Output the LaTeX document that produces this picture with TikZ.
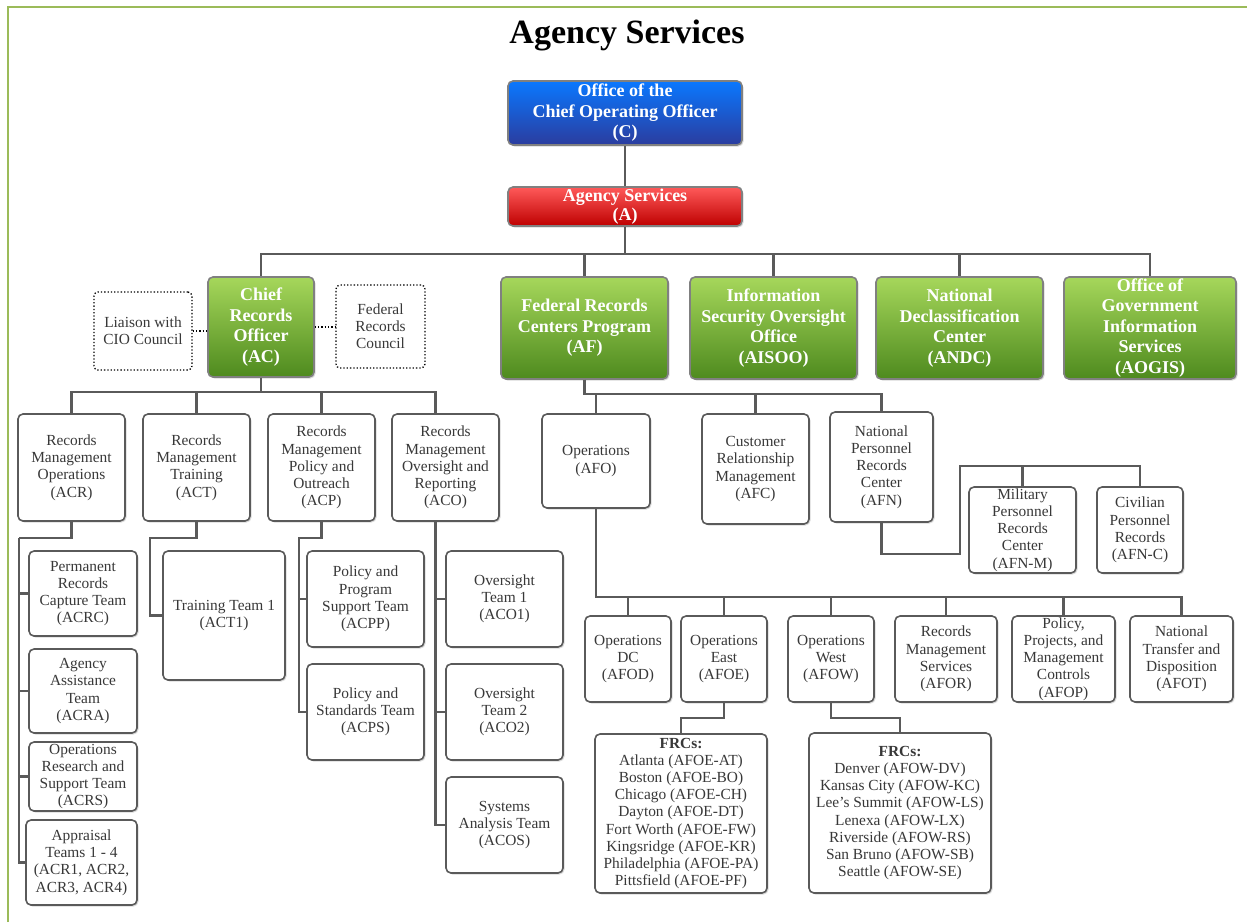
\documentclass[tikz,border=0pt]{standalone}
\usepackage{fontspec}
\setmainfont{Liberation Serif}
\usetikzlibrary{shadows}

\definecolor{linegray}{HTML}{5A5A5A}
\definecolor{textgray}{HTML}{383838}
\definecolor{framegreen}{HTML}{9BBB59}
\definecolor{greentop}{HTML}{A6D75B}
\definecolor{greenbot}{HTML}{4E8A1E}
\definecolor{bluetop}{HTML}{0A78FF}
\definecolor{bluebot}{HTML}{2B3C9E}
\definecolor{redtop}{HTML}{FF5A5A}
\definecolor{redbot}{HTML}{BE0000}

\tikzset{
    unit/.style={draw=linegray, line width=1.6pt, rounded corners=5pt, fill=white,
        text=textgray, align=center, inner sep=0pt,
        font=\fontsize{15.4}{17.2}\selectfont,
        drop shadow={shadow xshift=1.5pt, shadow yshift=-1.5pt, opacity=0.3}},
    headunit/.style={unit, draw=gray, text=white,
        font=\bfseries\fontsize{18}{20.5}\selectfont},
    greenunit/.style={headunit, top color=greentop, bottom color=greenbot},
    liaison/.style={draw=black, dotted, line width=1.3pt, rounded corners=4pt,
        text=textgray, align=center, font=\fontsize{15.4}{17}\selectfont},
    link/.style={draw=linegray, line width=2.4pt},
    sz/.style 2 args={minimum width=#1pt, minimum height=#2pt}
}

\begin{document}
\begin{tikzpicture}[x=1pt, y=-1pt]
    \useasboundingbox (0,0) rectangle (1247,922);
    \draw[framegreen, line width=2pt] (8,922) -- (8,7) -- (1247,7);

    \node[font=\bfseries\fontsize{34}{40}\selectfont] (title) at (627,35) {Agency Services};

    % top of the chart
    \node[headunit, sz={234}{64}, top color=bluetop, bottom color=bluebot] (coo) at (625,113)
        {Office of the\\Chief Operating Officer\\(C)};
    \node[headunit, sz={234}{39}, top color=redtop, bottom color=redbot,
        font=\bfseries\fontsize{18}{19}\selectfont] (as) at (625,206.5) {Agency Services\\(A)};
    \draw[link] (coo) -- (as);

    % offices under Agency Services
    \node[greenunit, sz={106}{100}] (ac) at (261,327) {Chief\\Records\\Officer\\(AC)};
    \node[greenunit, sz={167}{102}] (af) at (584.5,328) {Federal Records\\Centers Program\\(AF)};
    \node[greenunit, sz={167}{102}] (aisoo) at (773.5,328) {Information\\Security Oversight\\Office\\(AISOO)};
    \node[greenunit, sz={167}{102}] (andc) at (959.5,328) {National\\Declassification\\Center\\(ANDC)};
    \node[greenunit, sz={172}{102}] (aogis) at (1150,328) {Office of\\Government\\Information\\Services\\(AOGIS)};
    \foreach \name in {ac, af, aisoo, andc, aogis}
        \draw[link] (as.south) -- ++(0,27) -| (\name.north);

    % councils beside the Chief Records Officer
    \node[liaison, sz={98}{78}] (cio) at (143,331) {Liaison with\\CIO Council};
    \node[liaison, sz={89}{83}] (frcouncil) at (380.5,326.5) {Federal\\Records\\Council};
    \draw[dotted, line width=1.3pt] (cio.east) -- (cio.east -| ac.west);
    \draw[dotted, line width=1.3pt] (ac.east) -- (ac.east -| frcouncil.west);

    % Chief Records Officer
    \node[unit, sz={107}{107}] (acr) at (71.5,467.5) {Records\\Management\\Operations\\(ACR)};
    \node[unit, sz={107}{107}] (act) at (196.5,467.5) {Records\\Management\\Training\\(ACT)};
    \node[unit, sz={107}{107}] (acp) at (321.5,467.5) {Records\\Management\\Policy and\\Outreach\\(ACP)};
    \node[unit, sz={107}{107}] (aco) at (445.5,467.5) {Records\\Management\\Oversight and\\Reporting\\(ACO)};
    \foreach \name in {acr, act, acp}
        \draw[link] (ac.south) -- ++(0,14) -| (\name.north);
    \draw[link] (ac.south) -- ++(0,14) -| ([xshift=-10pt]aco.north);

    % ACR teams
    \node[unit, sz={108}{85}] (acrc) at (83,593.5) {Permanent\\Records\\Capture Team\\(ACRC)};
    \node[unit, sz={108}{84}] (acra) at (83,691) {Agency\\Assistance\\Team\\(ACRA)};
    \node[unit, sz={108}{69}] (acrs) at (83,776.5) {Operations\\Research and\\Support Team\\(ACRS)};
    \node[unit, sz={111}{85}] (acrn) at (81.5,862.5) {Appraisal\\Teams 1 - 4\\(ACR1, ACR2,\\ACR3, ACR4)};
    \coordinate (acrbus) at (19,538);
    \draw[link] (acr.south) |- (acrbus);
    \foreach \name in {acrc, acra, acrs, acrn}
        \draw[link] (acrbus) |- (\name.west);

    % ACT team
    \node[unit, sz={122}{129}] (act1) at (224,615.5) {Training Team 1\\(ACT1)};
    \coordinate (actbus) at (150,538);
    \draw[link] (act.south) |- (actbus) |- (act1.west);

    % ACP teams
    \node[unit, sz={117}{96}] (acpp) at (365.5,599) {Policy and\\Program\\Support Team\\(ACPP)};
    \node[unit, sz={117}{96}] (acps) at (365.5,712) {Policy and\\Standards Team\\(ACPS)};
    \coordinate (acpbus) at (299,538);
    \draw[link] (acp.south) |- (acpbus) |- (acpp.west);
    \draw[link] (acpbus) |- (acps.west);

    % ACO teams
    \node[unit, sz={117}{96}] (aco1) at (504.5,599) {Oversight\\Team 1\\(ACO1)};
    \node[unit, sz={117}{96}] (aco2) at (504.5,712) {Oversight\\Team 2\\(ACO2)};
    \node[unit, sz={117}{96}] (acos) at (504.5,825) {Systems\\Analysis Team\\(ACOS)};
    \foreach \name in {aco1, aco2, acos}
        \draw[link] ([xshift=-10pt]aco.south) |- (\name.west);

    % Federal Records Centers Program
    \node[unit, sz={108}{94}] (afo) at (596,461) {Operations\\(AFO)};
    \node[unit, sz={107}{110}] (afc) at (755.5,469) {Customer\\Relationship\\Management\\(AFC)};
    \node[unit, sz={103}{110}] (afn) at (881.5,467) {National\\Personnel\\Records\\Center\\(AFN)};
    \foreach \name in {afo, afc, afn}
        \draw[link] (af.south) -- ++(0,14) -| (\name.north);

    % personnel records centers
    \node[unit, sz={107}{86}] (afnm) at (1022.5,530) {Military\\Personnel\\Records\\Center\\(AFN-M)};
    \node[unit, sz={86}{86}] (afnc) at (1140,530) {Civilian\\Personnel\\Records\\(AFN-C)};
    \coordinate (afnbus) at (960,466);
    \draw[link] (afn.south) -- ++(0,31) -| (afnbus) -| (afnm.north);
    \draw[link] (afnbus) -| (afnc.north);

    % operations offices
    \node[unit, sz={86}{86}] (afod) at (628,659) {Operations\\DC\\(AFOD)};
    \node[unit, sz={86}{86}] (afoe) at (724,659) {Operations\\East\\(AFOE)};
    \node[unit, sz={86}{86}] (afow) at (831,659) {Operations\\West\\(AFOW)};
    \node[unit, sz={102}{86}] (afor) at (946,659) {Records\\Management\\Services\\(AFOR)};
    \node[unit, sz={103}{86}] (afop) at (1063.5,659) {Policy,\\Projects, and\\Management\\Controls\\(AFOP)};
    \node[unit, sz={103}{86}] (afot) at (1181.5,659) {National\\Transfer and\\Disposition\\(AFOT)};
    \foreach \name in {afod, afoe, afow, afor, afop, afot}
        \draw[link] (afo.south) -- ++(0,88) -| (\name.north);

    % records centers east and west
    \node[unit, sz={172}{159}] (frceast) at (681,813.5) {\textbf{FRCs:}\\Atlanta (AFOE-AT)\\Boston (AFOE-BO)\\Chicago (AFOE-CH)\\Dayton (AFOE-DT)\\Fort Worth (AFOE-FW)\\Kingsridge (AFOE-KR)\\Philadelphia (AFOE-PA)\\Pittsfield (AFOE-PF)};
    \node[unit, sz={182}{160}] (frcwest) at (900,813) {\textbf{FRCs:}\\Denver (AFOW-DV)\\Kansas City (AFOW-KC)\\Lee's Summit (AFOW-LS)\\Lenexa (AFOW-LX)\\Riverside (AFOW-RS)\\San Bruno (AFOW-SB)\\Seattle (AFOW-SE)};
    \draw[link] (afoe.south) -- ++(0,15) -| (frceast.north);
    \draw[link] (afow.south) -- ++(0,15) -| (frcwest.north);
\end{tikzpicture}
\end{document}
